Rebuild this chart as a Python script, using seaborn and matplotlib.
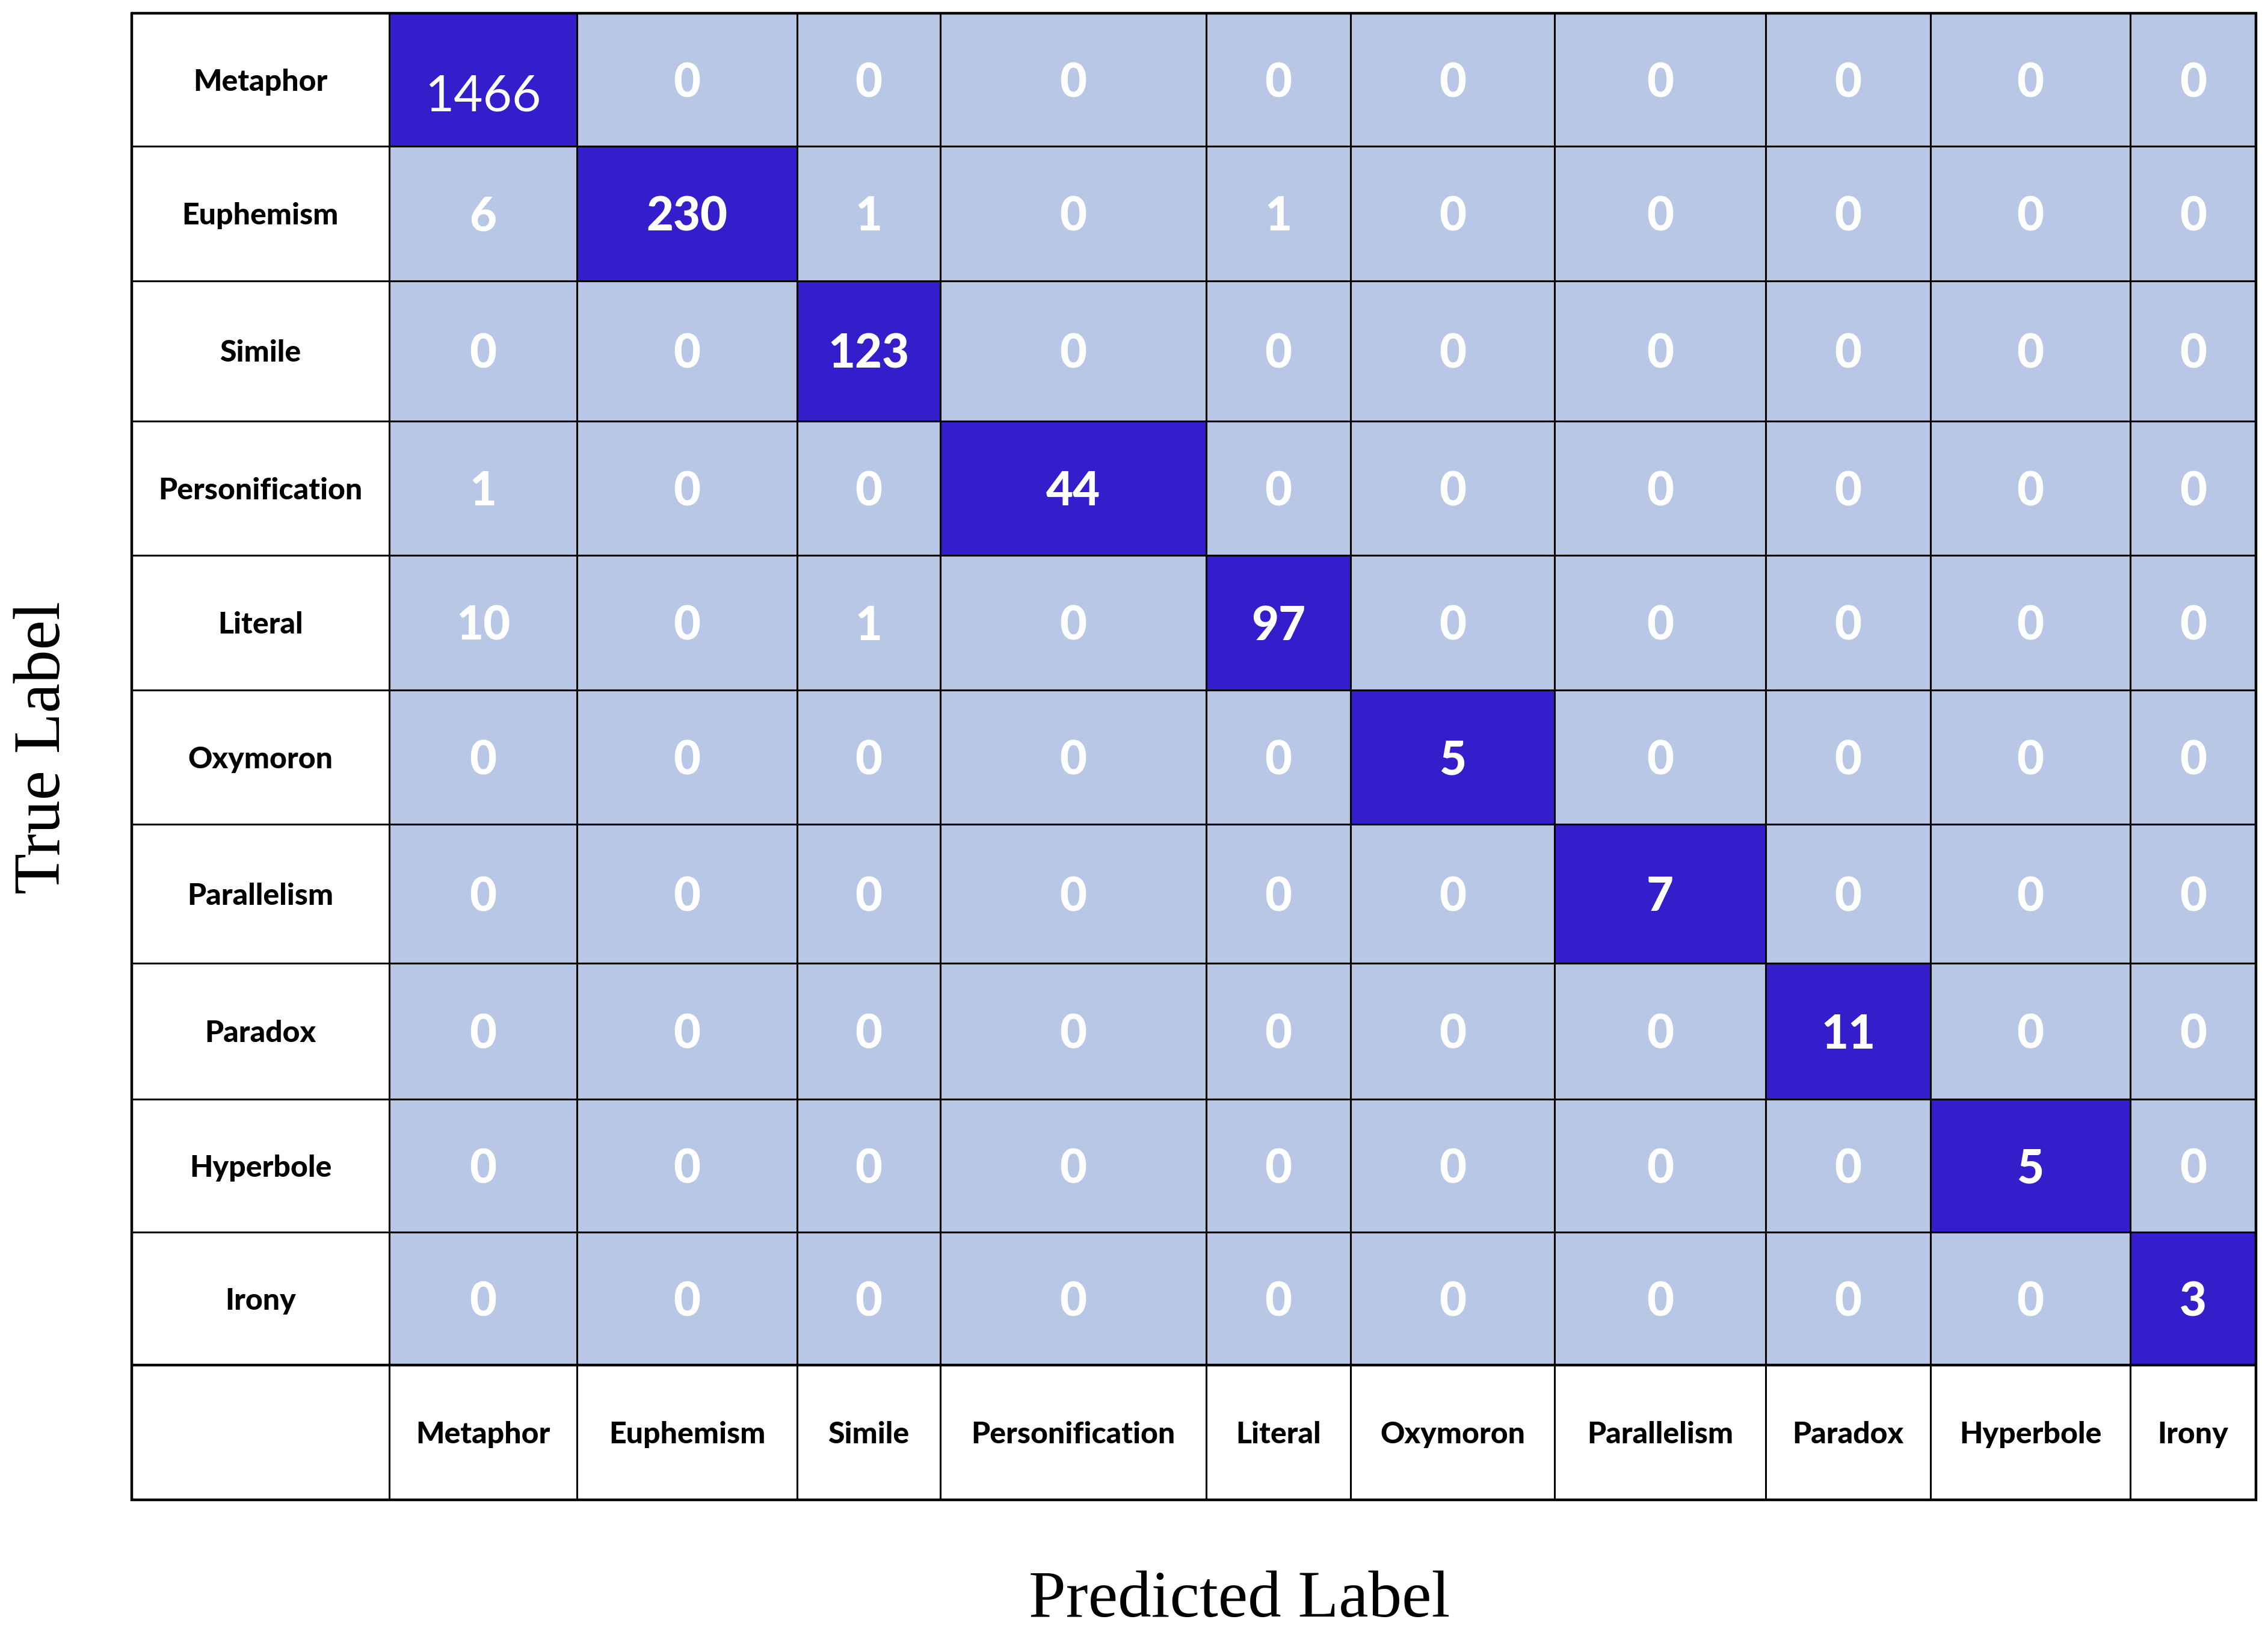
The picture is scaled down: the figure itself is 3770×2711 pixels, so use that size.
import numpy as np
import pandas as pd
import seaborn as sns
import matplotlib
matplotlib.use("Agg")
import matplotlib.pyplot as plt
from matplotlib.colors import ListedColormap

# ---- data ----
labels = ["Metaphor", "Euphemism", "Simile", "Personification", "Literal",
          "Oxymoron", "Parallelism", "Paradox", "Hyperbole", "Irony"]
row_metaphor = [1466, 0, 0, 0, 0, 0, 0, 0, 0, 0]
row_euphemism = [6, 230, 1, 0, 1, 0, 0, 0, 0, 0]
row_simile = [0, 0, 123, 0, 0, 0, 0, 0, 0, 0]
row_personification = [1, 0, 0, 44, 0, 0, 0, 0, 0, 0]
row_literal = [10, 0, 1, 0, 97, 0, 0, 0, 0, 0]
row_oxymoron = [0, 0, 0, 0, 0, 5, 0, 0, 0, 0]
row_parallelism = [0, 0, 0, 0, 0, 0, 7, 0, 0, 0]
row_paradox = [0, 0, 0, 0, 0, 0, 0, 11, 0, 0]
row_hyperbole = [0, 0, 0, 0, 0, 0, 0, 0, 5, 0]
row_irony = [0, 0, 0, 0, 0, 0, 0, 0, 0, 3]

counts = np.array([row_metaphor, row_euphemism, row_simile, row_personification,
                   row_literal, row_oxymoron, row_parallelism, row_paradox,
                   row_hyperbole, row_irony])
cm = pd.DataFrame(counts, index=labels, columns=labels)

# ---- layout (cell sizes of the table) ----
col_w = [130, 152, 99, 184, 100, 141, 146, 114, 138, 87]
row_h = [92, 93, 97, 93, 93, 93, 96, 94, 92, 92]
label_w = 178
label_h = 93

LIGHT = "#b8c7e6"
DARK = "#341ecc"

W, H, DPI = 3770, 2711, 200
sns.set_style("white")
fig = plt.figure(figsize=(W / DPI, H / DPI), dpi=DPI)

x0, x1 = 219, 3750
y0, y1 = 22, 2493
ax = fig.add_axes([x0 / W, 1 - y1 / H, (x1 - x0) / W, (y1 - y0) / H])

# colour: correct (diagonal) vs everything else
correct = (np.eye(len(labels)) > 0).astype(int)
expanded = np.repeat(np.repeat(correct, row_h, axis=0), col_w, axis=1)
sns.heatmap(expanded, cmap=ListedColormap([LIGHT, DARK]), vmin=0, vmax=1,
            cbar=False, xticklabels=False, yticklabels=False, ax=ax,
            rasterized=True)

tot_w = sum(col_w)
tot_h = sum(row_h)
ax.set_xlim(-label_w, tot_w)
ax.set_ylim(tot_h + label_h, 0)
for s in ax.spines.values():
    s.set_visible(False)

xe = np.concatenate([[0], np.cumsum(col_w)])
ye = np.concatenate([[0], np.cumsum(row_h)])
xc = (xe[:-1] + xe[1:]) / 2
yc = (ye[:-1] + ye[1:]) / 2

# grid lines
for x in xe[:-1]:
    ax.plot([x, x], [0, tot_h + label_h], color="black", lw=1.1, solid_capstyle="butt")
for y in ye[1:-1]:
    ax.plot([-label_w, tot_w], [y, y], color="black", lw=1.1, solid_capstyle="butt")
ax.plot([-label_w, tot_w], [tot_h, tot_h], color="black", lw=1.6, solid_capstyle="butt")
ax.plot([-label_w, tot_w, tot_w, -label_w, -label_w],
        [0, 0, tot_h + label_h, tot_h + label_h, 0],
        color="black", lw=1.6, clip_on=False, solid_joinstyle="miter")

lab_font = dict(family=["Lato", "DejaVu Sans"], fontweight=900, fontsize=18, color="black")
for i, lab in enumerate(labels):
    ax.text(-label_w / 2, yc[i] + 1.5, lab, ha="center", va="center", **lab_font)
    ax.text(xc[i], tot_h + label_h / 2 + 1.5, lab, ha="center", va="center", **lab_font)

for i in range(len(labels)):
    for j in range(len(labels)):
        v = cm.iloc[i, j]
        if i == 0 and j == 0:
            ax.text(xc[j], yc[i] + 12, f"{v}", ha="center", va="center", color="white",
                    family=["Lato", "DejaVu Sans"], fontweight="normal", fontsize=30)
        else:
            ax.text(xc[j], yc[i] + 2.5, f"{v}", ha="center", va="center", color="white",
                    family=["Lato", "DejaVu Sans"], fontweight=900, fontsize=28)

fig.text(72 / W, 1 - 1243 / H, "True Label", rotation=90, ha="center", va="center",
         family=["Liberation Serif", "DejaVu Serif"], fontsize=40, color="black")
fig.text(2060 / W, 1 - 2660 / H, "Predicted Label", ha="center", va="center",
         family=["Liberation Serif", "DejaVu Serif"], fontsize=40, color="black")

fig.savefig("out.png", dpi=DPI, facecolor="white")
